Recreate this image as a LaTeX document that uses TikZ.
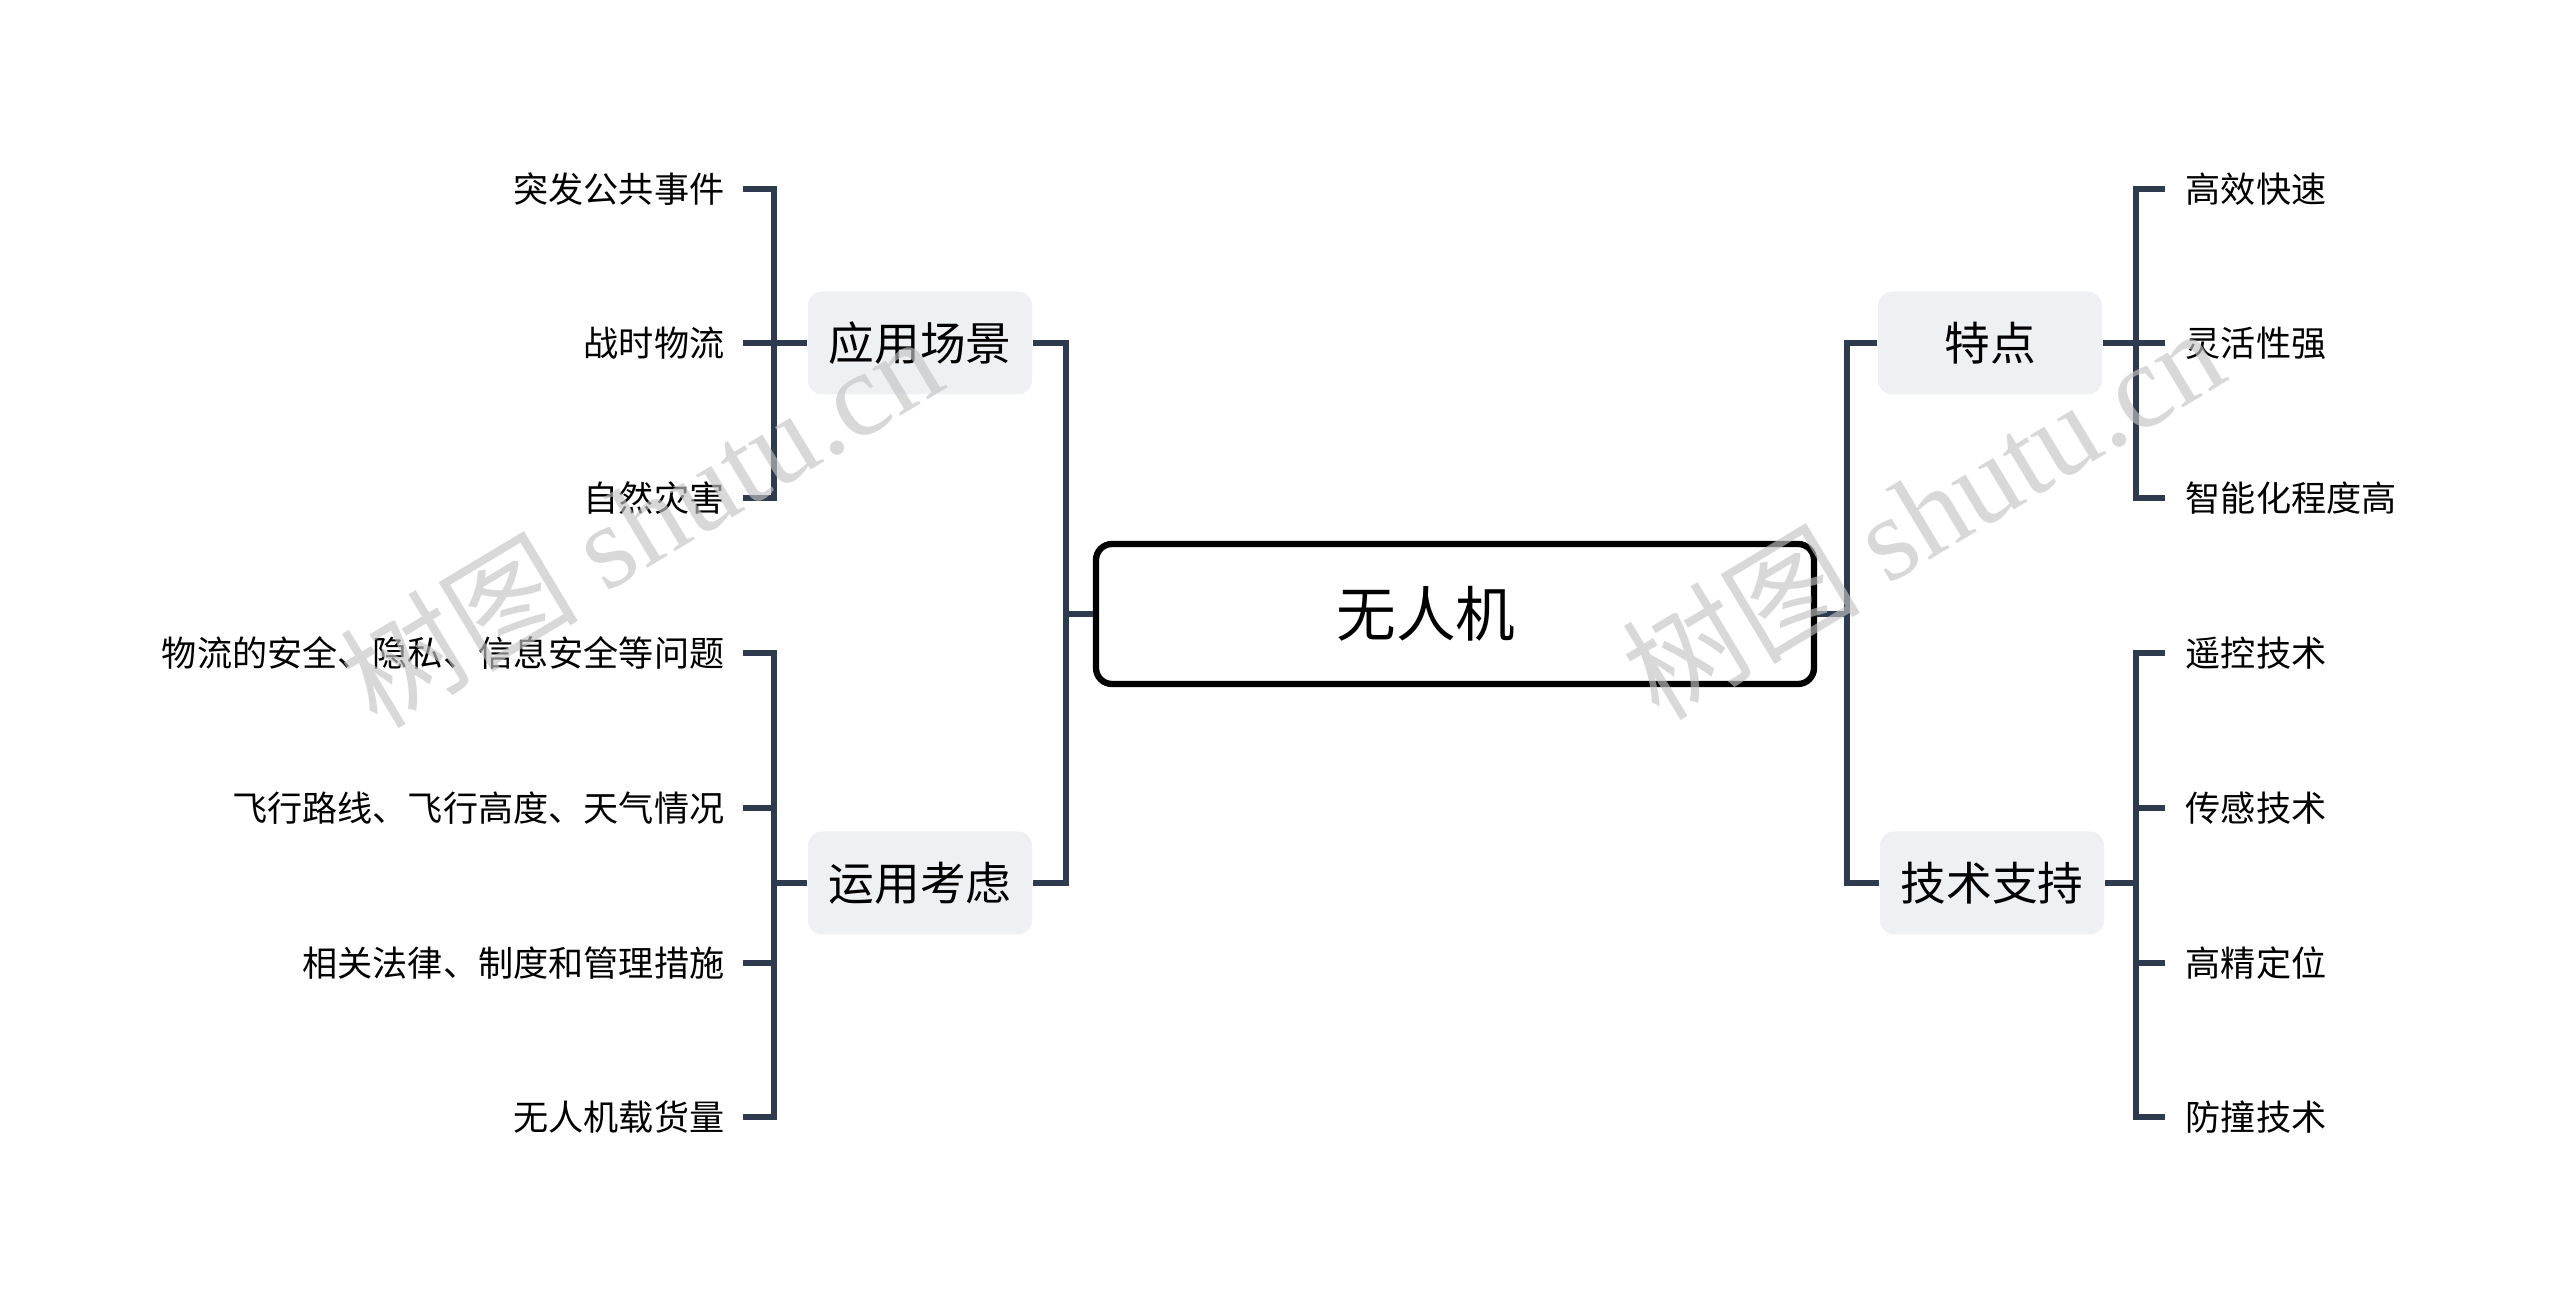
\documentclass[tikz,border=0pt]{standalone}
\usepackage{fontspec}
\setmainfont{Noto Sans CJK SC}
\newfontfamily\wmfont{Liberation Serif}
\usepackage{tikz}
\definecolor{linegray}{RGB}{46, 58, 77}
\definecolor{topicfill}{RGB}{238, 241, 244}
\definecolor{markgray}{RGB}{195, 195, 195}

\begin{document}
\begin{tikzpicture}[
	line/.style={draw=linegray, line width=1.7pt},
	rootbox/.style={draw=black, line width=1.8pt, rounded corners=0.16cm, minimum width=7.18cm, minimum height=1.40cm, font=\fontsize{17}{20}\selectfont},
	topic/.style={fill=topicfill, rounded corners=0.14cm, minimum width=2.24cm, minimum height=1.03cm, inner xsep=0.1cm, font=\fontsize{13}{16}\selectfont},
	leafL/.style={anchor=east, inner xsep=0.18cm, inner ysep=0.1cm, font=\fontsize{10}{12}\selectfont},
	leafR/.style={anchor=west, inner xsep=0.2cm, inner ysep=0.1cm, font=\fontsize{10}{12}\selectfont},
	wmark/.style={text=markgray, opacity=0.65, font=\fontsize{34}{40}\selectfont, rotate=31}
]
	\useasboundingbox (0,0) rectangle (25.6,-13.06);
	\node[rootbox] (root) at (14.55,-6.14) {\hspace*{-0.58cm}无人机};
	\node[topic] (app) at (9.20,-3.43) {应用场景};
	\node[topic] (use) at (9.20,-8.83) {运用考虑};
	\node[topic] (feat) at (19.90,-3.43) {特点};
	\node[topic] (tech) at (19.92,-8.83) {技术支持};

	\coordinate (hubL) at (10.66,-6.14);
	\coordinate (hubR) at (18.47,-6.14);
	\draw[line] (root.west) -- (hubL) |- (app.east);
	\draw[line] (hubL) |- (use.east);
	\draw[line] (root.east) -- (hubR) |- (feat.west);
	\draw[line] (hubR) |- (tech.west);

	\coordinate (appS) at (7.74,-3.43);
	\coordinate (useS) at (7.74,-8.83);
	\coordinate (featS) at (21.36,-3.43);
	\coordinate (techS) at (21.36,-8.83);
	\draw[line] (app.west) -- (appS);
	\draw[line] (use.west) -- (useS);
	\draw[line] (feat.east) -- (featS);
	\draw[line] (tech.east) -- (techS);

	\foreach \y/\t [count=\i] in {1.89/突发公共事件, 3.43/战时物流, 4.98/自然灾害} {
		\node[leafL] (app\i) at (7.43,-\y) {\t};
		\draw[line] (app\i.east) -| (appS);
	}
	\foreach \y/\t [count=\i] in {6.53/物流的安全、隐私、信息安全等问题, 8.08/飞行路线、飞行高度、天气情况, 9.63/相关法律、制度和管理措施, 11.17/无人机载货量} {
		\node[leafL] (use\i) at (7.43,-\y) {\t};
		\draw[line] (use\i.east) -| (useS);
	}
	\foreach \y/\t [count=\i] in {1.89/高效快速, 3.43/灵活性强, 4.98/智能化程度高} {
		\node[leafR] (feat\i) at (21.65,-\y) {\t};
		\draw[line] (feat\i.west) -| (featS);
	}
	\foreach \y/\t [count=\i] in {6.53/遥控技术, 8.08/传感技术, 9.63/高精定位, 11.17/防撞技术} {
		\node[leafR] (tech\i) at (21.65,-\y) {\t};
		\draw[line] (tech\i.west) -| (techS);
	}

	\node[wmark] (wmL) at (6.40,-5.20) {树图 {\wmfont shutu.cn}};
	\node[wmark] (wmR) at (19.22,-5.12) {树图 {\wmfont shutu.cn}};
\end{tikzpicture}
\end{document}
